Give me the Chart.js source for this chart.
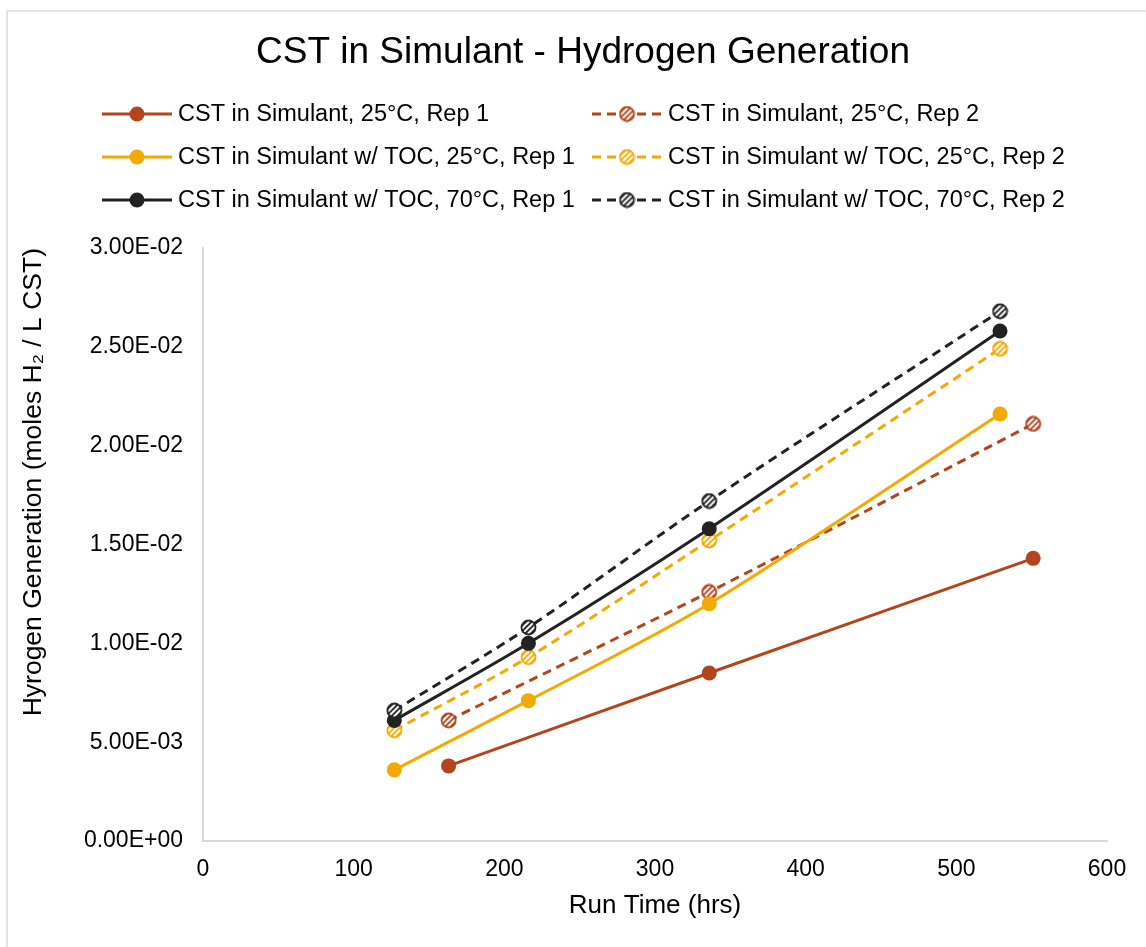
<!DOCTYPE html>
<html>
<head>
<meta charset="utf-8">
<script src="https://cdn.jsdelivr.net/npm/chart.js@4/dist/chart.umd.min.js"></script>
<style>
  body { margin: 0; background: #fff; }
  #c { display: block; }
</style>
</head>
<body>
<canvas id="c" width="1146" height="947"></canvas>
<script>
// run times (hrs)
const runTime25 = [163, 336, 551];
const runTimeTOC = [127, 216, 336, 529];

// hydrogen generation (moles H2 / L CST)
const sim25rep1 = [0.0038, 0.0085, 0.0143];
const sim25rep2 = [0.0061, 0.0126, 0.0211];
const toc25rep1 = [0.0036, 0.0071, 0.0120, 0.0216];
const toc25rep2 = [0.0056, 0.0093, 0.0152, 0.0249];
const toc70rep1 = [0.0061, 0.0100, 0.0158, 0.0258];
const toc70rep2 = [0.0066, 0.0108, 0.0172, 0.0268];

const seriesNames = [
  'CST in Simulant, 25°C, Rep 1',
  'CST in Simulant, 25°C, Rep 2',
  'CST in Simulant w/ TOC, 25°C, Rep 1',
  'CST in Simulant w/ TOC, 25°C, Rep 2',
  'CST in Simulant w/ TOC, 70°C, Rep 1',
  'CST in Simulant w/ TOC, 70°C, Rep 2'
];

const xTicks = [0, 100, 200, 300, 400, 500, 600];
const yTicks = [0, 0.005, 0.01, 0.015, 0.02, 0.025, 0.03];

const RED = '#B4441B';
const GOLD = '#F2AA00';
const BLACK = '#222222';
const FONT = '"Liberation Sans", Arial, sans-serif';

function hatched(color) {
  let s = 17;
  let cv = document.createElement('canvas');
  cv.width = s; cv.height = s;
  let g = cv.getContext('2d');
  let r = 7;
  g.save();
  g.beginPath();
  g.arc(s/2, s/2, r, 0, Math.PI*2);
  g.fillStyle = color;
  g.fill();
  g.clip();
  g.strokeStyle = '#fff';
  g.lineWidth = 2;
  for (let k = -2; k <= 2; k++) {
    g.beginPath();
    g.moveTo(s/2 - 10 + k*5.5, s/2 + 10);
    g.lineTo(s/2 + 10 + k*5.5, s/2 - 10);
    g.stroke();
  }
  g.restore();
  g.beginPath();
  g.arc(s/2, s/2, r, 0, Math.PI*2);
  g.strokeStyle = color;
  g.lineWidth = 1.8;
  g.stroke();
  return cv;
}

function pts(xs, ys) {
  return xs.map((x, i) => ({x: x, y: ys[i]}));
}

function sci(v) {
  if (Math.abs(v) < 1e-12) return '0.00E+00';
  let e = Math.floor(Math.log10(Math.abs(v)) + 1e-9);
  let m = v / Math.pow(10, e);
  return m.toFixed(2) + 'E' + (e < 0 ? '-' : '+') + String(Math.abs(e)).padStart(2, '0');
}

function makeSet(i, xs, ys, color, dashed) {
  return {
    label: seriesNames[i],
    data: pts(xs, ys),
    showLine: true,
    borderColor: color,
    backgroundColor: color,
    borderWidth: 3,
    borderDash: dashed ? [9, 6] : [],
    tension: 0.3,
    pointStyle: dashed ? hatched(color) : 'circle',
    pointRadius: 7.5,
    pointHoverRadius: 7.5,
    pointBorderWidth: 0,
    pointBackgroundColor: color,
    order: -i
  };
}

const datasets = [
  makeSet(0, runTime25, sim25rep1, RED, false),
  makeSet(1, runTime25, sim25rep2, RED, true),
  makeSet(2, runTimeTOC, toc25rep1, GOLD, false),
  makeSet(3, runTimeTOC, toc25rep2, GOLD, true),
  makeSet(4, runTimeTOC, toc70rep1, BLACK, false),
  makeSet(5, runTimeTOC, toc70rep2, BLACK, true)
];

// frame, title and two-column legend
const decor = {
  id: 'decor',
  beforeDraw(chart) {
    let ctx = chart.ctx;
    ctx.save();
    ctx.fillStyle = '#fff';
    ctx.fillRect(0, 0, chart.width, chart.height);
    ctx.strokeStyle = '#E3E3E3';
    ctx.lineWidth = 2;
    ctx.beginPath();
    ctx.moveTo(7, chart.height);
    ctx.lineTo(7, 11);
    ctx.lineTo(chart.width, 11);
    ctx.stroke();
    ctx.restore();
  },
  afterDraw(chart) {
    let ctx = chart.ctx;
    ctx.save();
    ctx.fillStyle = '#000';
    ctx.font = '37px ' + FONT;
    ctx.textAlign = 'center';
    ctx.textBaseline = 'middle';
    ctx.fillText('CST in Simulant - Hydrogen Generation', 583, 53);

    ctx.font = '23.5px ' + FONT;
    ctx.textAlign = 'left';
    chart.data.datasets.forEach((ds, i) => {
      let x0 = (i % 2) ? 592 : 102;
      let y = 114 + Math.floor(i / 2) * 43;
      ctx.strokeStyle = ds.borderColor;
      ctx.lineWidth = 3;
      ctx.setLineDash(ds.borderDash);
      ctx.beginPath();
      ctx.moveTo(x0, y);
      ctx.lineTo(x0 + 70, y);
      ctx.stroke();
      ctx.setLineDash([]);
      if (typeof ds.pointStyle === 'string') {
        ctx.fillStyle = ds.borderColor;
        ctx.beginPath();
        ctx.arc(x0 + 35, y, 7.5, 0, Math.PI*2);
        ctx.fill();
      } else {
        let im = ds.pointStyle;
        ctx.drawImage(im, x0 + 35 - im.width/2, y - im.height/2);
      }
      ctx.fillStyle = '#000';
      ctx.fillText(ds.label, x0 + 76, y + 1);
    });
    ctx.restore();
  }
};

new Chart(document.getElementById('c'), {
  type: 'scatter',
  data: { datasets: datasets },
  plugins: [decor],
  options: {
    responsive: false,
    animation: false,
    layout: { padding: { top: 248, right: 39, left: 0, bottom: 0 } },
    plugins: {
      legend: { display: false },
      title: { display: false },
      tooltip: { enabled: false }
    },
    scales: {
      x: {
        type: 'linear',
        min: xTicks[0],
        max: xTicks[xTicks.length - 1],
        afterBuildTicks: s => { s.ticks = xTicks.map(v => ({value: v})); },
        afterFit: s => { s.height = 106; },
        grid: { display: true, drawOnChartArea: false, drawTicks: false },
        border: { color: '#D9D9D9', width: 2 },
        ticks: { color: '#000', font: { family: FONT, size: 23 }, padding: 15 },
        title: {
          display: true,
          text: 'Run Time (hrs)',
          color: '#000',
          font: { family: FONT, size: 26 },
          padding: { top: 0, bottom: 26 }
        }
      },
      y: {
        type: 'linear',
        min: yTicks[0],
        max: yTicks[yTicks.length - 1],
        afterBuildTicks: s => { s.ticks = yTicks.map(v => ({value: v})); },
        afterFit: s => { s.width = 203; },
        grid: { display: true, drawOnChartArea: false, drawTicks: false },
        border: { color: '#D9D9D9', width: 2 },
        ticks: { color: '#000', font: { family: FONT, size: 23 }, padding: 20, callback: v => sci(v) },
        title: {
          display: true,
          text: 'Hyrogen Generation (moles H₂ / L CST)',
          align: 'end',
          color: '#000',
          font: { family: FONT, size: 26.5 },
          padding: { top: 18, bottom: 0 }
        }
      }
    }
  }
});
</script>
</body>
</html>
